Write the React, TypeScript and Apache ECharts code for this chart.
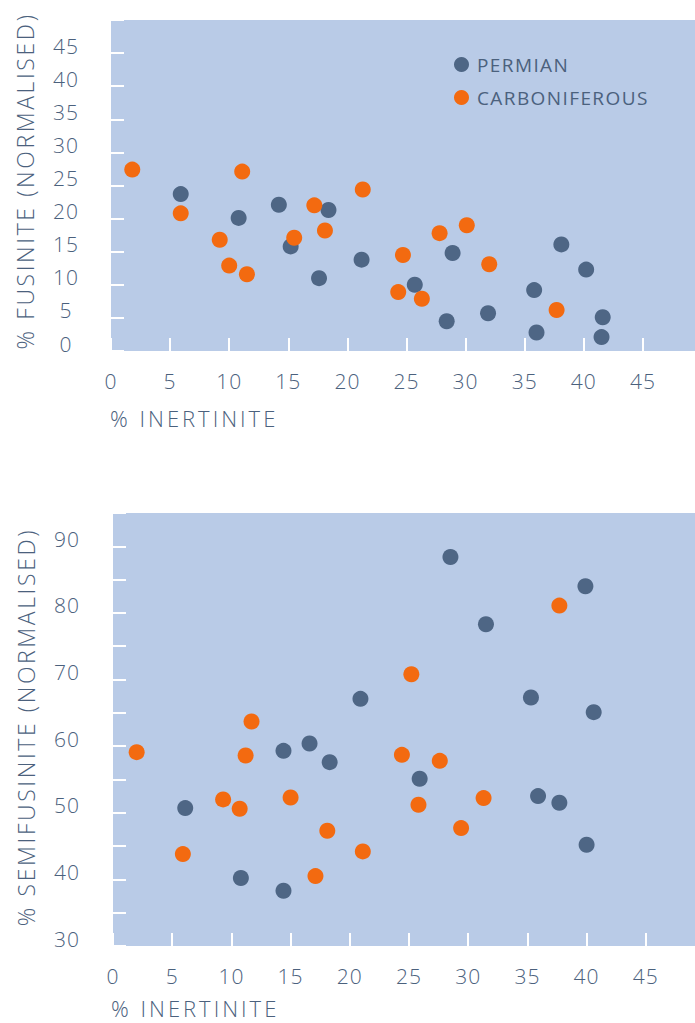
import React, { useEffect, useRef } from "react";
import * as echarts from "echarts";

// % INERTINITE vs % FUSINITE (normalised)
const fusinitePermian: number[][] = [
  [5.9, 23.7], [10.8, 20.1], [14.2, 22.1], [15.2, 15.8], [17.6, 11.0], [18.4, 21.3],
  [21.2, 13.8], [25.7, 10.0], [28.9, 14.8], [28.4, 4.5], [31.9, 5.7], [35.8, 9.2],
  [36.0, 2.8], [38.1, 16.1], [40.2, 12.3], [41.6, 5.1], [41.5, 2.1],
];
const fusiniteCarboniferous: number[][] = [
  [1.8, 27.4], [5.9, 20.8], [11.1, 27.1], [9.2, 16.8], [10.0, 12.9], [11.5, 11.6],
  [17.2, 22.0], [15.5, 17.1], [18.1, 18.2], [21.3, 24.4], [24.7, 14.5], [27.8, 17.8],
  [30.1, 19.0], [32.0, 13.1], [24.3, 8.9], [26.3, 7.9], [37.7, 6.2],
];

// % INERTINITE vs % SEMIFUSINITE (normalised)
const semifusinitePermian: number[][] = [
  [6.1, 50.7], [14.4, 59.3], [16.6, 60.4], [18.3, 57.6], [10.8, 40.2], [14.4, 38.3],
  [20.9, 67.1], [25.9, 55.1], [28.5, 88.4], [31.5, 78.3], [35.3, 67.3], [35.9, 52.5],
  [37.7, 51.5], [39.9, 84.0], [40.6, 65.1], [40.0, 45.2],
];
const semifusiniteCarboniferous: number[][] = [
  [2.0, 59.1], [5.9, 43.8], [9.3, 52.0], [10.7, 50.6], [11.2, 58.6], [11.7, 63.7],
  [15.0, 52.3], [17.1, 40.5], [18.1, 47.3], [21.1, 44.2], [24.4, 58.7], [25.2, 70.8],
  [25.8, 51.2], [27.6, 57.8], [29.4, 47.7], [31.3, 52.2], [37.7, 81.1],
];

const seriesNames = ["PERMIAN", "CARBONIFEROUS"];
const xAxisTitle = "% INERTINITE";
const yAxisTitles = ["% FUSINITE (NORMALISED)", "% SEMIFUSINITE (NORMALISED)"];

const TEXT = "#4b617d";
const BLUE = "#4e6685";
const ORANGE = "#f36a10";
const BG = "#b9cbe7";
const FONT = "'Open Sans'";

const spacingCss = `
#chartbox text[style*="23px"] { letter-spacing: 2.6px; }
#chartbox text[style*="22px"] { letter-spacing: 3px; }
#chartbox text[style*="19px"] { letter-spacing: 1.4px; }
#chartbox text[style*="21px"] { letter-spacing: 1px; }
`;

export default function App() {
  const ref = useRef<HTMLDivElement>(null);

  useEffect(() => {
    if (!ref.current) return;
    const chart = echarts.init(ref.current, undefined, { renderer: "svg" });

    const tickStyle = {
      show: true,
      inside: true,
      length: 13,
      lineStyle: { color: "#ffffff", width: 2 },
    };
    const xAxisBase = (gridIndex: number) => ({
      type: "value" as const,
      gridIndex,
      min: 0,
      max: 50,
      interval: 5,
      axisLine: { show: false },
      splitLine: { show: false },
      axisTick: tickStyle,
      axisLabel: {
        margin: 19,
        color: TEXT,
        fontFamily: FONT,
        fontWeight: 300,
        fontSize: 21,
        formatter: (v: number) => (v >= 50 ? "" : String(v)),
      },
    });
    const yLabel = (margin: number, fmt: (v: number) => string) => ({
      margin,
      align: "center",
      verticalAlign: "bottom",
      lineHeight: 15,
      color: TEXT,
      fontFamily: FONT,
      fontWeight: 300,
      fontSize: 21,
      formatter: fmt,
    });

    const option = {
      animation: false,
      backgroundColor: "#ffffff",
      grid: [
        { left: 111, top: 20, width: 591, height: 331, show: true, backgroundColor: BG, borderWidth: 0 },
        { left: 113, top: 513, width: 592, height: 433, show: true, backgroundColor: BG, borderWidth: 0 },
      ],
      xAxis: [xAxisBase(0), xAxisBase(1)],
      yAxis: [
        {
          type: "value",
          gridIndex: 0,
          min: 0,
          max: 50,
          interval: 5,
          axisLine: { show: false },
          splitLine: { show: false },
          axisTick: tickStyle,
          axisLabel: yLabel(45, (v: number) => (v >= 50 ? "" : String(v))),
        },
        {
          type: "value",
          gridIndex: 1,
          min: 30,
          max: 95,
          interval: 5,
          axisLine: { show: false },
          splitLine: { show: false },
          axisTick: tickStyle,
          axisLabel: yLabel(46, (v: number) => (v % 10 === 0 && v <= 90 ? String(v) : "")),
        },
      ],
      legend: {
        data: seriesNames,
        orient: "vertical",
        left: 454,
        top: 55,
        padding: 0,
        itemWidth: 15,
        itemHeight: 15,
        itemGap: 14,
        icon: "circle",
        textStyle: { color: TEXT, fontFamily: FONT, fontSize: 19, padding: [0, 0, 0, 3] },
        selectedMode: false,
      },
      graphic: [
        {
          type: "text",
          x: 24.5,
          y: 181,
          rotation: Math.PI / 2,
          style: {
            text: yAxisTitles[0],
            align: "center",
            verticalAlign: "middle",
            fill: TEXT,
            font: `300 23px ${FONT}`,
          },
        },
        {
          type: "text",
          x: 25.5,
          y: 727,
          rotation: Math.PI / 2,
          style: {
            text: yAxisTitles[1],
            align: "center",
            verticalAlign: "middle",
            fill: TEXT,
            font: `300 23px ${FONT}`,
          },
        },
        {
          type: "text",
          x: 110,
          y: 418,
          style: { text: xAxisTitle, align: "left", verticalAlign: "middle", fill: TEXT, font: `300 22px ${FONT}` },
        },
        {
          type: "text",
          x: 111,
          y: 1008,
          style: { text: xAxisTitle, align: "left", verticalAlign: "middle", fill: TEXT, font: `300 22px ${FONT}` },
        },
      ],
      series: [
        {
          name: seriesNames[0],
          type: "scatter",
          xAxisIndex: 0,
          yAxisIndex: 0,
          symbolSize: 16,
          itemStyle: { color: BLUE, opacity: 1 },
          data: fusinitePermian,
        },
        {
          name: seriesNames[1],
          type: "scatter",
          xAxisIndex: 0,
          yAxisIndex: 0,
          symbolSize: 16,
          itemStyle: { color: ORANGE, opacity: 1 },
          data: fusiniteCarboniferous,
        },
        {
          name: seriesNames[0],
          type: "scatter",
          xAxisIndex: 1,
          yAxisIndex: 1,
          symbolSize: 16,
          itemStyle: { color: BLUE, opacity: 1 },
          data: semifusinitePermian,
        },
        {
          name: seriesNames[1],
          type: "scatter",
          xAxisIndex: 1,
          yAxisIndex: 1,
          symbolSize: 16,
          itemStyle: { color: ORANGE, opacity: 1 },
          data: semifusiniteCarboniferous,
        },
      ],
    };

    chart.setOption(option as any);
    return () => chart.dispose();
  }, []);

  return (
    <div
      id="chartbox"
      style={{
        position: "fixed",
        left: 0,
        top: 0,
        width: 695,
        height: 1023,
        overflow: "hidden",
        background: "#ffffff",
      }}
    >
      <style>{spacingCss}</style>
      <div ref={ref} style={{ width: 720, height: 1023 }} />
    </div>
  );
}
